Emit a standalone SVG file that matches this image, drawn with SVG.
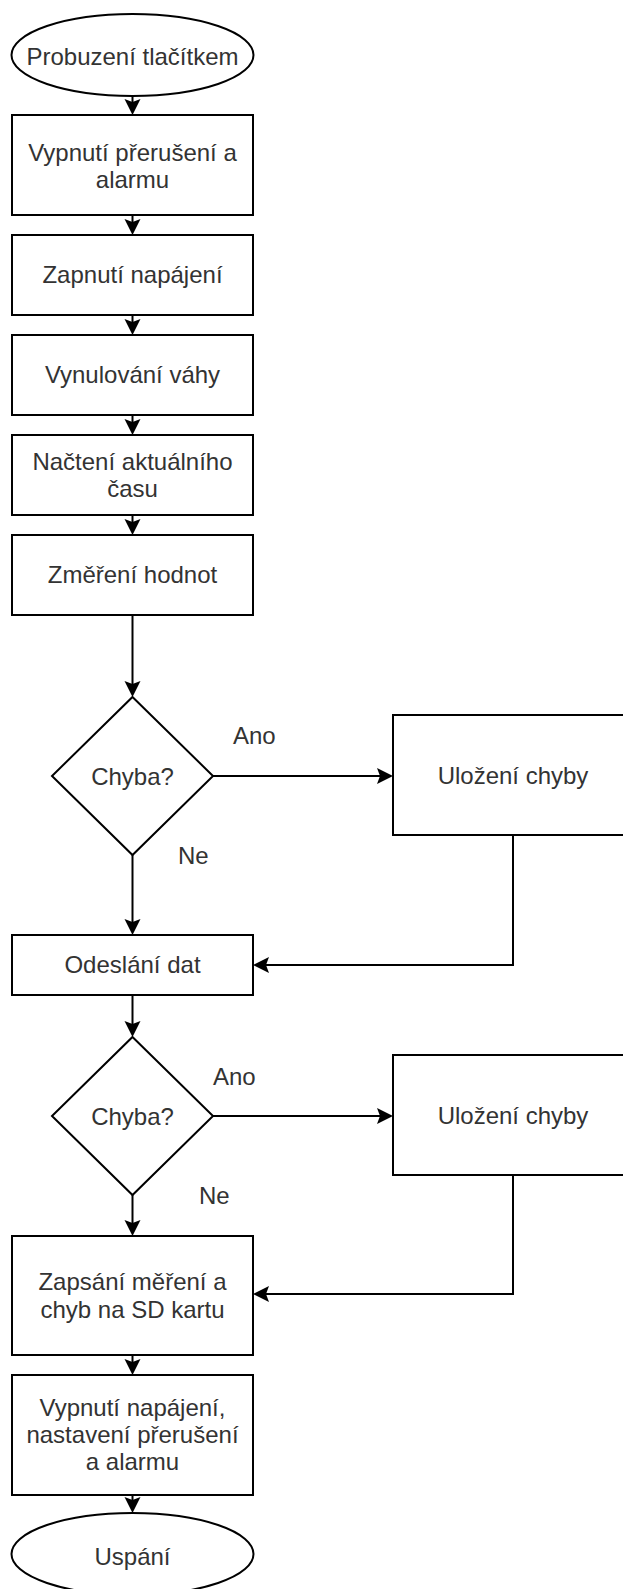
<svg xmlns="http://www.w3.org/2000/svg" width="623" height="1589" viewBox="0 0 623 1589">
<style>
.s{fill:#fff;stroke:#000;stroke-width:2}
.t{font-family:"Liberation Sans",Arial,sans-serif;font-size:24px;fill:#333;text-anchor:middle}
.l{font-family:"Liberation Sans",Arial,sans-serif;font-size:24px;fill:#333}
.c{fill:none;stroke:#000;stroke-width:2}
</style>
<defs>
<marker id="a" markerUnits="userSpaceOnUse" markerWidth="16" markerHeight="18" viewBox="0 0 16 18" refX="3" refY="9" orient="auto">
<path d="M0,1 L16,9 L0,17 L3,9 Z" fill="#000"/>
</marker>
</defs>
<rect width="623" height="1589" fill="#fff"/>
<g id="connectors">
<path class="c" d="M132.5,96 V102" marker-end="url(#a)"/>
<path class="c" d="M132.5,215 V222" marker-end="url(#a)"/>
<path class="c" d="M132.5,315 V322" marker-end="url(#a)"/>
<path class="c" d="M132.5,415 V422" marker-end="url(#a)"/>
<path class="c" d="M132.5,515 V522" marker-end="url(#a)"/>
<path class="c" d="M132.5,615 V684" marker-end="url(#a)"/>
<path class="c" d="M213,776 H380" marker-end="url(#a)"/>
<path class="c" d="M132.5,855 V922" marker-end="url(#a)"/>
<path class="c" d="M513,835 V965 H266" marker-end="url(#a)"/>
<path class="c" d="M132.5,995 V1024" marker-end="url(#a)"/>
<path class="c" d="M213,1116 H380" marker-end="url(#a)"/>
<path class="c" d="M132.5,1195 V1223" marker-end="url(#a)"/>
<path class="c" d="M513,1175 V1294 H266" marker-end="url(#a)"/>
<path class="c" d="M132.5,1355 V1362" marker-end="url(#a)"/>
<path class="c" d="M132.5,1495 V1500" marker-end="url(#a)"/>
<text class="l" x="233" y="744">Ano</text>
<text class="l" x="178" y="864">Ne</text>
<text class="l" x="213" y="1085">Ano</text>
<text class="l" x="199" y="1204">Ne</text>
</g>
<g id="start">
<ellipse class="s" cx="132.5" cy="55" rx="121" ry="41"/>
<text class="t" x="132.5" y="65">Probuzení tlačítkem</text>
</g>
<g id="n1">
<rect class="s" x="12" y="115" width="241" height="100"/>
<text class="t" x="132.5" y="161">Vypnutí přerušení a</text>
<text class="t" x="132.5" y="188">alarmu</text>
</g>
<g id="n2">
<rect class="s" x="12" y="235" width="241" height="80"/>
<text class="t" x="132.5" y="283">Zapnutí napájení</text>
</g>
<g id="n3">
<rect class="s" x="12" y="335" width="241" height="80"/>
<text class="t" x="132.5" y="383">Vynulování váhy</text>
</g>
<g id="n4">
<rect class="s" x="12" y="435" width="241" height="80"/>
<text class="t" x="132.5" y="470">Načtení aktuálního</text>
<text class="t" x="132.5" y="497">času</text>
</g>
<g id="n5">
<rect class="s" x="12" y="535" width="241" height="80"/>
<text class="t" x="132.5" y="583">Změření hodnot</text>
</g>
<g id="d1">
<polygon class="s" points="132.5,697 213,776 132.5,855 52,776"/>
<text class="t" x="132.5" y="785">Chyba?</text>
</g>
<g id="e1">
<rect class="s" x="393" y="715" width="240" height="120"/>
<text class="t" x="513" y="784">Uložení chyby</text>
</g>
<g id="n6">
<rect class="s" x="12" y="935" width="241" height="60"/>
<text class="t" x="132.5" y="973">Odeslání dat</text>
</g>
<g id="d2">
<polygon class="s" points="132.5,1037 213,1116 132.5,1195 52,1116"/>
<text class="t" x="132.5" y="1125">Chyba?</text>
</g>
<g id="e2">
<rect class="s" x="393" y="1055" width="240" height="120"/>
<text class="t" x="513" y="1124">Uložení chyby</text>
</g>
<g id="n7">
<rect class="s" x="12" y="1236" width="241" height="119"/>
<text class="t" x="132.5" y="1290">Zapsání měření a</text>
<text class="t" x="132.5" y="1318">chyb na SD kartu</text>
</g>
<g id="n8">
<rect class="s" x="12" y="1375" width="241" height="120"/>
<text class="t" x="132.5" y="1416">Vypnutí napájení,</text>
<text class="t" x="132.5" y="1443">nastavení přerušení</text>
<text class="t" x="132.5" y="1470">a alarmu</text>
</g>
<g id="end">
<ellipse class="s" cx="132.5" cy="1554" rx="121" ry="41"/>
<text class="t" x="132.5" y="1565">Uspání</text>
</g>
</svg>
